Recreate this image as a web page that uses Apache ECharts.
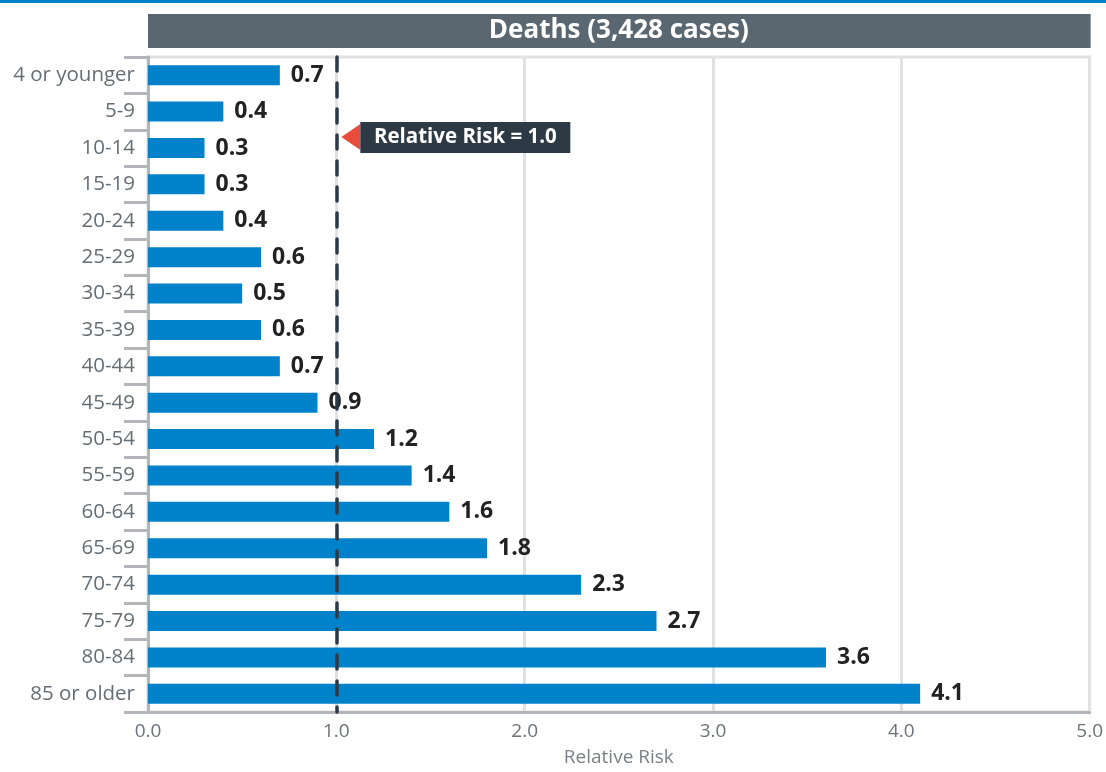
<!DOCTYPE html>
<html>
<head>
<meta charset="utf-8">
<script src="https://cdn.jsdelivr.net/npm/echarts@6/dist/echarts.min.js"></script>
<style>
html,body{margin:0;padding:0;background:#fff;}
#c{width:1106px;height:772px;}
</style>
</head>
<body>
<div id="c"></div>
<script>
const categories = ['4 or younger','5-9','10-14','15-19','20-24','25-29','30-34','35-39','40-44','45-49','50-54','55-59','60-64','65-69','70-74','75-79','80-84','85 or older'];
const riskValues = [0.7,0.4,0.3,0.3,0.4,0.6,0.5,0.6,0.7,0.9,1.2,1.4,1.6,1.8,2.3,2.7,3.6,4.1];
const xTicks = [0,1,2,3,4,5];
const referenceRisk = 1.0;
const titleText = 'Deaths (3,428 cases)';
const calloutText = 'Relative Risk = 1.0';

const FONT = "'Open Sans', 'Noto Sans', sans-serif";
const chart = echarts.init(document.getElementById('c'));

const option = {
  animation: false,
  textStyle: {fontFamily: FONT},
  grid: {left: 148, right: 15, top: 57, bottom: 55, show: true, borderColor: '#dfe1e3', borderWidth: 3},
  xAxis: {
    type: 'value', min: xTicks[0], max: xTicks[xTicks.length-1], interval: 1,
    name: 'Relative Risk', nameLocation: 'middle', nameGap: 36,
    nameTextStyle: {color: '#7a8288', fontSize: 19, fontFamily: FONT},
    axisLine: {show: true, lineStyle: {color: '#b2b6ba', width: 3}},
    axisTick: {show: false},
    axisLabel: {color: '#6b737a', fontSize: 19, margin: 10, fontFamily: FONT, formatter: v => v.toFixed(1)},
    splitLine: {show: true, lineStyle: {color: '#dfe1e3', width: 3}}
  },
  yAxis: {
    type: 'category', data: categories, inverse: true,
    axisLine: {show: true, lineStyle: {color: '#b2b6ba', width: 3}},
    axisTick: {show: true, length: 24, lineStyle: {color: '#b2b6ba', width: 3}},
    axisLabel: {color: '#666e75', fontSize: 20.5, margin: 13, fontFamily: FONT},
    splitLine: {show: false}
  },
  series: [{
    type: 'bar', data: riskValues, barWidth: 20,
    itemStyle: {color: '#0082ca'},
    label: {show: true, position: 'right', distance: 11, color: '#222', fontWeight: 'bold', fontSize: 23, fontFamily: FONT, formatter: p => p.value.toFixed(1)},
    markLine: {
      silent: true, symbol: 'none', animation: false,
      label: {show: false},
      lineStyle: {color: '#2d3a45', width: 3.5, type: [14, 12], cap: 'round'},
      data: [{xAxis: referenceRisk}]
    },
    z: 2
  }]
};
chart.setOption(option);

function addGraphics() {
  const x0 = chart.convertToPixel({xAxisIndex: 0}, xTicks[0]);
  const x1 = chart.convertToPixel({xAxisIndex: 0}, xTicks[xTicks.length-1]);
  const xr = chart.convertToPixel({xAxisIndex: 0}, referenceRisk);
  const yA = chart.convertToPixel({yAxisIndex: 0}, categories[1]);
  const yB = chart.convertToPixel({yAxisIndex: 0}, categories[2]);
  const cy = yA + (yB - yA) * 0.7;
  const tip = xr + 5;
  chart.setOption({
    graphic: [
      {type: 'rect', left: 0, top: 0, shape: {x: 0, y: 0, width: 1106, height: 3}, style: {fill: '#0082ca'}},
      {type: 'rect', shape: {x: x0, y: 14, width: x1 - x0 + 1, height: 34}, style: {fill: '#5b6770'}},
      {type: 'text', x: (x0 + x1) / 2, y: 31, style: {text: titleText, fill: '#fff', font: "bold 26px " + FONT, align: 'center', verticalAlign: 'middle'}},
      {type: 'polygon', shape: {points: [[tip, cy], [tip + 19, cy - 13], [tip + 19, cy + 13]]}, style: {fill: '#e84c3d'}, z: 10},
      {type: 'rect', shape: {x: tip + 19, y: cy - 15, width: 210, height: 31}, style: {fill: '#2d3a45'}, z: 10},
      {type: 'text', x: tip + 19 + 105, y: cy + 0.5, style: {text: calloutText, fill: '#fff', font: "bold 20.5px " + FONT, align: 'center', verticalAlign: 'middle'}, z: 11}
    ]
  });
}
addGraphics();
</script>
</body>
</html>
